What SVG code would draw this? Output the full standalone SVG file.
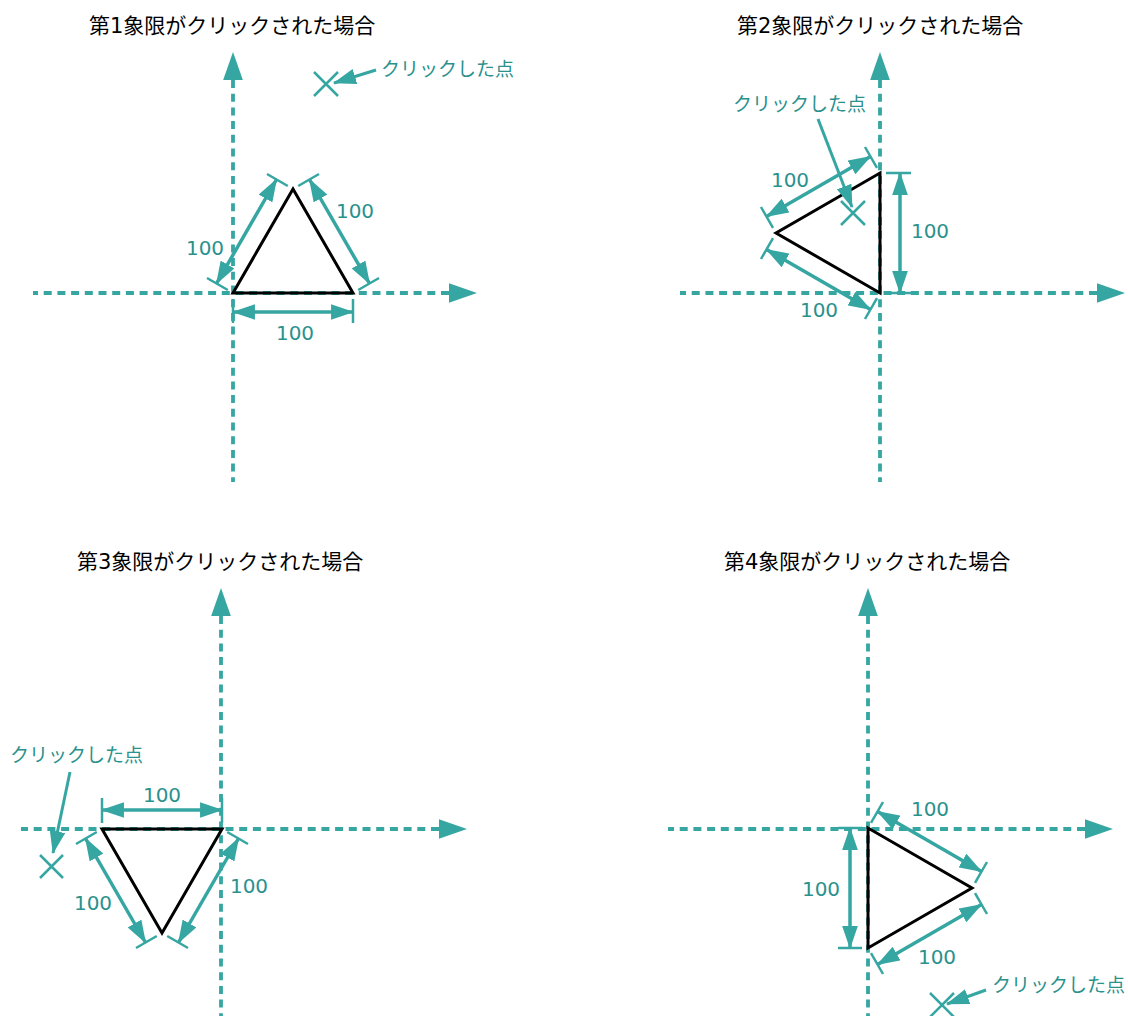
<svg xmlns="http://www.w3.org/2000/svg" width="1128" height="1016" viewBox="0 0 1128 1016">
<style>
.title{font-family:"DejaVu Sans","Noto Sans CJK JP",sans-serif;font-size:21px;fill:#000}
.lbl{font-family:"Noto Sans CJK JP","Noto Sans",sans-serif;font-size:19px;fill:#2a918d}
.num{font-family:"DejaVu Sans","Noto Sans",sans-serif;font-size:20px;fill:#2a918d;text-anchor:middle;dominant-baseline:central}
.axis{stroke:#36a6a2;stroke-width:3.8;stroke-dasharray:8 5.7;fill:none;marker-start:url(#ax)}
.dim{stroke:#36a6a2;stroke-width:3.5;fill:none;marker-start:url(#ar);marker-end:url(#ar)}
.lead{stroke:#36a6a2;stroke-width:3;fill:none;marker-end:url(#ar)}
.tick{stroke:#36a6a2;stroke-width:2.5;fill:none}
.tri{stroke:#000;stroke-width:3;fill:none;stroke-linejoin:miter}
</style>
<defs>
<marker id="ax" markerUnits="userSpaceOnUse" markerWidth="28" markerHeight="20" viewBox="0 0 27 19" refX="0" refY="9.5" orient="auto-start-reverse"><path d="M0,0 L27,9.5 L0,19 Z" fill="#36a6a2"/></marker>
<marker id="ar" markerUnits="userSpaceOnUse" markerWidth="23" markerHeight="16" viewBox="0 0 22 15" refX="21" refY="7.5" orient="auto-start-reverse"><path d="M0,0 L22,7.5 L0,15 Z" fill="#36a6a2"/></marker>
</defs>

<g id="q1">
<text class="title" x="89" y="33">第1象限がクリックされた場合</text>
<g id="q1-axes">
<path class="axis" d="M233,80 L233,482"/>
<path class="axis" d="M449,293 L33,293"/>
</g>
<polygon class="tri" points="233,293 353,293 293,189"/>
<g id="q1-dims">
<path class="dim" d="M233,312 L353,312"/>
<path class="tick" d="M233,299 L233,323 M353,299 L353,323"/>
<path class="dim" d="M216.5,283.5 L276.5,179.5"/>
<path class="tick" d="M227.8,290 L207,278 M287.8,186 L267,174"/>
<path class="dim" d="M309.5,179.5 L369.5,283.5"/>
<path class="tick" d="M298.2,186 L319,174 M358.2,290 L379,278"/>
<text class="num" x="205" y="248">100</text>
<text class="num" x="355" y="211">100</text>
<text class="num" x="295" y="333">100</text>
</g>
<g id="q1-click">
<path class="tick" d="M314,72 L338,96 M338,72 L314,96"/>
<path class="lead" d="M376,70 L334,83"/>
<text class="lbl" x="381" y="76">クリックした点</text>
</g>
</g>

<g id="q2">
<text class="title" x="737" y="33">第2象限がクリックされた場合</text>
<g id="q2-axes">
<path class="axis" d="M880,80 L880,482"/>
<path class="axis" d="M1097,293 L680,293"/>
</g>
<polygon class="tri" points="880,173 880,293 776,233"/>
<g id="q2-dims">
<path class="dim" d="M900,173 L900,293"/>
<path class="tick" d="M886,173 L911,173 M886,293 L911,293"/>
<path class="dim" d="M870.5,156.5 L766.5,216.5"/>
<path class="tick" d="M877,167.8 L865,147 M773,227.8 L761,207"/>
<path class="dim" d="M766.5,249.5 L870.5,309.5"/>
<path class="tick" d="M773,238.2 L761,259 M877,298.2 L865,319"/>
<text class="num" x="930" y="231">100</text>
<text class="num" x="790" y="180">100</text>
<text class="num" x="819" y="310">100</text>
</g>
<g id="q2-click">
<path class="tick" d="M841,201 L865,225 M865,201 L841,225"/>
<path class="lead" d="M818,119 L852,207"/>
<text class="lbl" x="733" y="111">クリックした点</text>
</g>
</g>

<g id="q3">
<text class="title" x="77" y="569">第3象限がクリックされた場合</text>
<g id="q3-axes">
<path class="axis" d="M221,616 L221,1016"/>
<path class="axis" d="M439,829 L21,829"/>
</g>
<polygon class="tri" points="102,829 222,829 162,933"/>
<g id="q3-dims">
<path class="dim" d="M102,810 L222,810"/>
<path class="tick" d="M102,823 L102,798 M222,823 L222,798"/>
<path class="dim" d="M85.5,838.5 L145.5,942.5"/>
<path class="tick" d="M96.8,832 L76,844 M156.8,936 L136,948"/>
<path class="dim" d="M238.5,838.5 L178.5,942.5"/>
<path class="tick" d="M227.2,832 L248,844 M167.2,936 L188,948"/>
<text class="num" x="162" y="795">100</text>
<text class="num" x="93" y="903">100</text>
<text class="num" x="249" y="886">100</text>
</g>
<g id="q3-click">
<path class="tick" d="M40,855 L63,878 M63,855 L40,878"/>
<path class="lead" d="M70,772 L53,853"/>
<text class="lbl" x="10" y="762">クリックした点</text>
</g>
</g>

<g id="q4">
<text class="title" x="724" y="569">第4象限がクリックされた場合</text>
<g id="q4-axes">
<path class="axis" d="M868,616 L868,1016"/>
<path class="axis" d="M1085,829 L668,829"/>
</g>
<polygon class="tri" points="868,828 868,948 972,888"/>
<g id="q4-dims">
<path class="dim" d="M850,828 L850,948"/>
<path class="tick" d="M862,828 L838,828 M862,948 L838,948"/>
<path class="dim" d="M877.5,811.5 L981.5,871.5"/>
<path class="tick" d="M871,822.8 L883,802 M975,882.8 L987,862"/>
<path class="dim" d="M981.5,904.5 L877.5,964.5"/>
<path class="tick" d="M975,893.2 L987,914 M871,953.2 L883,974"/>
<text class="num" x="821" y="889">100</text>
<text class="num" x="930" y="809">100</text>
<text class="num" x="937" y="957">100</text>
</g>
<g id="q4-click">
<path class="tick" d="M930,993 L954,1017 M954,993 L930,1017"/>
<path class="lead" d="M986,990 L947,1004"/>
<text class="lbl" x="992" y="992">クリックした点</text>
</g>
</g>
</svg>
